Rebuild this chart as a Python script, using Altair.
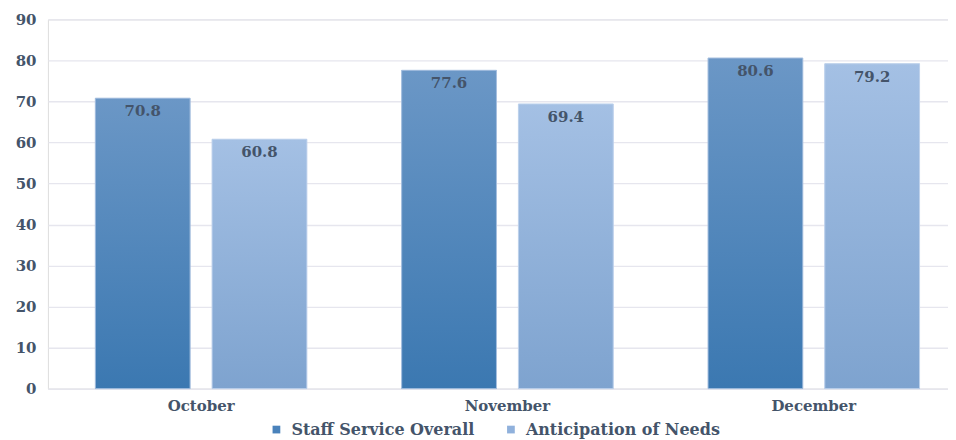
import altair as alt
import pandas as pd

months = ["October", "November", "December"]
series = ["Staff Service Overall", "Anticipation of Needs"]
staff_service = [70.8, 77.6, 80.6]
anticipation = [60.8, 69.4, 79.2]

rows = []
for m, a, b in zip(months, staff_service, anticipation):
    rows.append({"month": m, "series": series[0], "value": a})
    rows.append({"month": m, "series": series[1], "value": b})
df = pd.DataFrame(rows)

FONT = "DejaVu Serif"
TXT = "#44546a"

x = alt.X("month:N", sort=months, title=None,
          scale=alt.Scale(range=[0, 921], paddingInner=0, paddingOuter=0),
          axis=alt.Axis(labelFont=FONT, labelFontSize=15, labelFontWeight="bold",
                        labelColor=TXT, ticks=False, domain=True, domainColor="#e6e6ec",
                        labelPadding=10, labelAngle=0))
xo = alt.XOffset("series:N", sort=series,
                 scale=alt.Scale(domain=series, paddingInner=0.188, paddingOuter=0.406))
y = alt.Y("value:Q", title=None,
          scale=alt.Scale(domain=[0, 90], nice=False),
          axis=alt.Axis(values=list(range(0, 91, 10)), labelFont=FONT, labelFontSize=15,
                        labelFontWeight="bold", labelColor=TXT, ticks=False, domain=False,
                        gridColor="#e6e6ee", gridWidth=1.3, labelPadding=12))

base = alt.Chart(df).mark_bar().encode(
    x=x, xOffset=xo, y=y,
    color=alt.Color("series:N", sort=series,
                    scale=alt.Scale(domain=series, range=["#4a82bb", "#90b1dc"]),
                    legend=alt.Legend(title=None, orient="none", direction="horizontal",
                                      legendX=221, legendY=403,
                                      labelFont=FONT, labelFontSize=16, labelFontWeight="bold",
                                      labelColor=TXT, symbolType="square", symbolSize=60,
                                      symbolStrokeWidth=0, columnPadding=28, labelOffset=7,
                                      labelLimit=400))
)

def grad(top, bottom):
    return alt.LinearGradient(gradient="linear", x1=0, x2=0, y1=0, y2=1,
                              stops=[alt.GradientStop(color=top, offset=0),
                                     alt.GradientStop(color=bottom, offset=1)])

dark = alt.Chart(df).transform_filter(alt.datum.series == series[0]).mark_bar(
    color=grad("#6b97c6", "#3b78b1"), stroke="#a9c1e0", strokeWidth=1
).encode(x=x, xOffset=xo, y=y)

light = alt.Chart(df).transform_filter(alt.datum.series == series[1]).mark_bar(
    color=grad("#a4c0e4", "#7ea3cf"), stroke="#bfd2ec", strokeWidth=1
).encode(x=x, xOffset=xo, y=y)

labels = alt.Chart(df).mark_text(
    font=FONT, fontSize=15, fontWeight="bold", color=TXT, baseline="middle", dy=13
).encode(x=x, xOffset=xo, y=y, text=alt.Text("value:Q", format=".1f"))

chart = alt.layer(base, dark, light, labels).properties(
    width=902, height=370,
    autosize=alt.AutoSizeParams(type="none"),
    padding={"left": 40, "top": 11, "right": 0, "bottom": 50},
).configure_view(stroke=None).configure(background="white")

chart.save("out.html", embed_options={"renderer": "svg", "actions": False})
